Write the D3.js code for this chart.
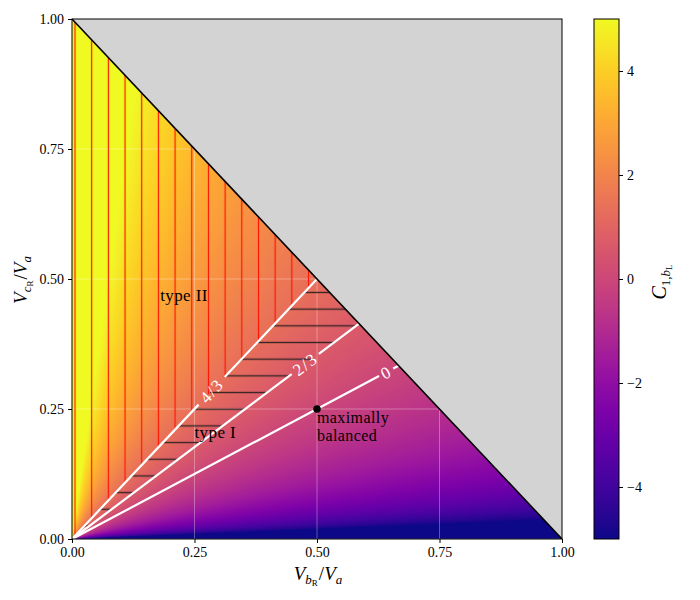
<!DOCTYPE html>
<html>
<head>
<meta charset="utf-8">
<script src="https://cdn.jsdelivr.net/npm/d3@7"></script>
<style>
  body { margin: 0; background: #fff; }
  svg text { font-family: "Liberation Serif", "DejaVu Serif", serif; }
</style>
</head>
<body>
<div id="chart"></div>
<script>
// values
var xTicks = [0, 0.25, 0.5, 0.75, 1];
var yTicks = [0, 0.25, 0.5, 0.75, 1];
var colorTicks = [-4, -2, 0, 2, 4];
var colorRange = [-5, 5];
// contour levels and the slope V_cR/V_bR each white line runs along
var contourLevels = [4/3, 2/3, 0];
var contourSlopes = [1.0, 0.707, 0.5];
var contourNames = ['4/3', '2/3', '0'];
// where the inline labels sit (x in data units) and half the gap they cut
var labelX = [0.285, 0.476, 0.641];
var labelGap = [19, 17, 8];
var balancedPoint = [0.5, 0.25];

var W = 700, H = 600;
var svg = d3.select('#chart').append('svg')
  .attr('width', W).attr('height', H);

var x = d3.scaleLinear().domain([0, 1]).range([72, 562]);
var y = d3.scaleLinear().domain([0, 1]).range([539, 19]);
var cy = d3.scaleLinear().domain(colorRange).range([539, 19]);

// the field only depends on the ratio V_cR / V_bR, log-like between the contours
var field = d3.scaleLog()
  .domain([contourSlopes[2], contourSlopes[0]])
  .range([contourLevels[2], contourLevels[0]]);
var norm = d3.scaleLinear().domain(colorRange).range([0, 1]).clamp(true);

// heatmap painted into a canvas and put in as an image
var pw = 490, ph = 520;
var canvas = document.createElement('canvas');
canvas.width = pw; canvas.height = ph;
var ctx = canvas.getContext('2d');
var img = ctx.createImageData(pw, ph);
for (var j = 0; j < ph; j++){
  for (var i = 0; i < pw; i++){
    var dx = x.invert(72 + i + 0.5);
    var dy = y.invert(19 + j + 0.5);
    if (dx + dy > 1.004) continue;
    var v = field(dy / dx);
    var c = d3.rgb(d3.interpolatePlasma(norm(v)));
    var k = (j * pw + i) * 4;
    img.data[k] = c.r; img.data[k+1] = c.g; img.data[k+2] = c.b; img.data[k+3] = 255;
  }
}
ctx.putImageData(img, 0, 0);
svg.append('image')
  .attr('x', 72).attr('y', 19)
  .attr('width', pw).attr('height', ph)
  .attr('href', canvas.toDataURL());

// hatch patterns
var defs = svg.append('defs');
var step = 16.68;
var vp = defs.append('pattern').attr('id', 'vhatch')
  .attr('patternUnits', 'userSpaceOnUse')
  .attr('x', 75 - step/2).attr('y', 0)
  .attr('width', step).attr('height', step);
vp.append('line').attr('x1', step/2).attr('x2', step/2)
  .attr('y1', -1).attr('y2', step + 1)
  .attr('stroke', '#ff1500').attr('stroke-width', 1.2);
var hp = defs.append('pattern').attr('id', 'hhatch')
  .attr('patternUnits', 'userSpaceOnUse')
  .attr('x', 0).attr('y', 509.3 - step/2)
  .attr('width', step).attr('height', step);
hp.append('line').attr('y1', step/2).attr('y2', step/2)
  .attr('x1', -1).attr('x2', step + 1)
  .attr('stroke', '#1a1a1a').attr('stroke-opacity', 0.85).attr('stroke-width', 1.4);

// grid
var grid = svg.append('g').attr('stroke', '#ffffff').attr('stroke-opacity', 0.4).attr('stroke-width', 0.8);
xTicks.forEach(function(t){
  grid.append('line').attr('x1', x(t)).attr('x2', x(t)).attr('y1', y(0)).attr('y2', y(1));
});
yTicks.forEach(function(t){
  grid.append('line').attr('x1', x(0)).attr('x2', x(1)).attr('y1', y(t)).attr('y2', y(t));
});

// where each contour meets the diagonal x + y = 1
function endOf(s){ var ex = 1 / (1 + s); return [ex, s * ex]; }
var e0 = endOf(contourSlopes[0]), e1 = endOf(contourSlopes[1]);
var line = d3.line().x(function(d){return x(d[0])}).y(function(d){return y(d[1])});

// type II: vertical red hatch, type I: horizontal black hatch
svg.append('path')
  .attr('d', line([[0, 0], [0, 1], e0]) + 'Z')
  .attr('fill', 'url(#vhatch)');
svg.append('path')
  .attr('d', line([[0, 0], e0, e1]) + 'Z')
  .attr('fill', 'url(#hhatch)');

// white contour lines with inline labels
var cg = svg.append('g');
contourSlopes.forEach(function(s, n){
  var end = endOf(s);
  var p0 = [x(0), y(0)], p1 = [x(end[0]), y(end[1])];
  var len = Math.hypot(p1[0]-p0[0], p1[1]-p0[1]);
  var u = [(p1[0]-p0[0])/len, (p1[1]-p0[1])/len];
  var lc = [x(labelX[n]), y(s * labelX[n])];
  var g = labelGap[n];
  var a = [lc[0] - g*u[0], lc[1] - g*u[1]], b = [lc[0] + g*u[0], lc[1] + g*u[1]];
  cg.append('path').attr('d', 'M' + p0 + 'L' + a + 'M' + b + 'L' + p1)
    .attr('fill', 'none').attr('stroke', '#fff').attr('stroke-width', 2.2);
  var ang = Math.atan2(u[1], u[0]) * 180 / Math.PI;
  cg.append('text')
    .attr('transform', 'translate(' + lc + ') rotate(' + ang + ')')
    .attr('text-anchor', 'middle').attr('dy', '0.35em')
    .attr('fill', '#fff').attr('font-size', 17).attr('letter-spacing', 1.5)
    .text(contourNames[n]);
});

// the unreachable half
svg.append('path')
  .attr('d', line([[0, 1], [1, 1], [1, 0]]) + 'Z')
  .attr('fill', '#d3d3d3');
svg.append('path')
  .attr('d', line([[0, 1], [1, 0]]))
  .attr('stroke', '#000').attr('stroke-width', 1.6);

// maximally balanced point
svg.append('circle')
  .attr('cx', x(balancedPoint[0])).attr('cy', y(balancedPoint[1]))
  .attr('r', 3.8).attr('fill', '#000');

var notes = svg.append('g').attr('font-size', 17).attr('fill', '#000').attr('letter-spacing', 0.4);
notes.append('text').attr('x', x(0.18)).attr('y', y(0.457)).text('type II');
notes.append('text').attr('x', x(0.25)).attr('y', y(0.194)).text('type I');
notes.append('text').attr('x', x(0.5)).attr('y', 423).attr('font-size', 16).text('maximally');
notes.append('text').attr('x', x(0.5)).attr('y', 441).attr('font-size', 16).text('balanced');

// frame and axes
svg.append('rect')
  .attr('x', 72).attr('y', 19).attr('width', 490).attr('height', 520)
  .attr('fill', 'none').attr('stroke', '#000').attr('stroke-width', 1);

var fmt = d3.format('.2f');
var xa = svg.append('g').attr('transform', 'translate(0,539)')
  .call(d3.axisBottom(x).tickValues(xTicks).tickFormat(fmt).tickSize(4).tickPadding(4));
var ya = svg.append('g').attr('transform', 'translate(72,0)')
  .call(d3.axisLeft(y).tickValues(yTicks).tickFormat(fmt).tickSize(4).tickPadding(4));
[xa, ya].forEach(function(a){
  a.select('.domain').remove();
  a.selectAll('text').attr('font-size', 14).attr('font-family', '"Liberation Serif", serif').attr('fill', '#000');
  a.selectAll('line').attr('stroke', '#000');
});

// math-ish labels built from tspans
function mathLabel(el, parts){
  parts.forEach(function(p){
    el.append('tspan')
      .attr('font-style', p.it ? 'italic' : 'normal')
      .attr('font-size', p.fs)
      .attr('dy', p.dy || 0)
      .attr('dx', p.dx || 0)
      .text(p.t);
  });
}
var xl = svg.append('text').attr('x', 318).attr('y', 580).attr('text-anchor', 'middle');
mathLabel(xl, [
  {t: 'V', it: true, fs: 19},
  {t: 'b', it: true, fs: 13, dy: 4},
  {t: 'R', fs: 9, dy: 2},
  {t: '/', fs: 19, dy: -6, dx: 1},
  {t: 'V', it: true, fs: 19},
  {t: 'a', it: true, fs: 13, dy: 4}
]);
var yl = svg.append('text').attr('transform', 'translate(27,280) rotate(-90)').attr('text-anchor', 'middle');
mathLabel(yl, [
  {t: 'V', it: true, fs: 19},
  {t: 'c', it: true, fs: 13, dy: 4},
  {t: 'R', fs: 9, dy: 2},
  {t: '/', fs: 19, dy: -6, dx: 1},
  {t: 'V', it: true, fs: 19},
  {t: 'a', it: true, fs: 13, dy: 4}
]);

// colorbar
var grad = defs.append('linearGradient').attr('id', 'cbar')
  .attr('x1', 0).attr('y1', 1).attr('x2', 0).attr('y2', 0);
d3.range(0, 1.0001, 0.05).forEach(function(t){
  grad.append('stop').attr('offset', t).attr('stop-color', d3.interpolatePlasma(t));
});
svg.append('rect')
  .attr('x', 594).attr('y', cy(colorRange[1]))
  .attr('width', 25).attr('height', cy(colorRange[0]) - cy(colorRange[1]))
  .attr('fill', 'url(#cbar)').attr('stroke', '#000').attr('stroke-width', 1);
var ca = svg.append('g').attr('transform', 'translate(619,0)')
  .call(d3.axisRight(cy).tickValues(colorTicks)
    .tickFormat(function(d){ return d < 0 ? '\u2212' + Math.abs(d) : d; })
    .tickSize(4).tickPadding(4));
ca.select('.domain').remove();
ca.selectAll('text').attr('font-size', 14).attr('font-family', '"Liberation Serif", serif').attr('fill', '#000');
ca.selectAll('line').attr('stroke', '#000');

var cl = svg.append('text').attr('transform', 'translate(666,282) rotate(-90)').attr('text-anchor', 'middle');
mathLabel(cl, [
  {t: 'C', it: true, fs: 20},
  {t: '1,', fs: 13, dy: 4},
  {t: 'b', it: true, fs: 13},
  {t: 'L', fs: 9, dy: 2}
]);
</script>
</body>
</html>
